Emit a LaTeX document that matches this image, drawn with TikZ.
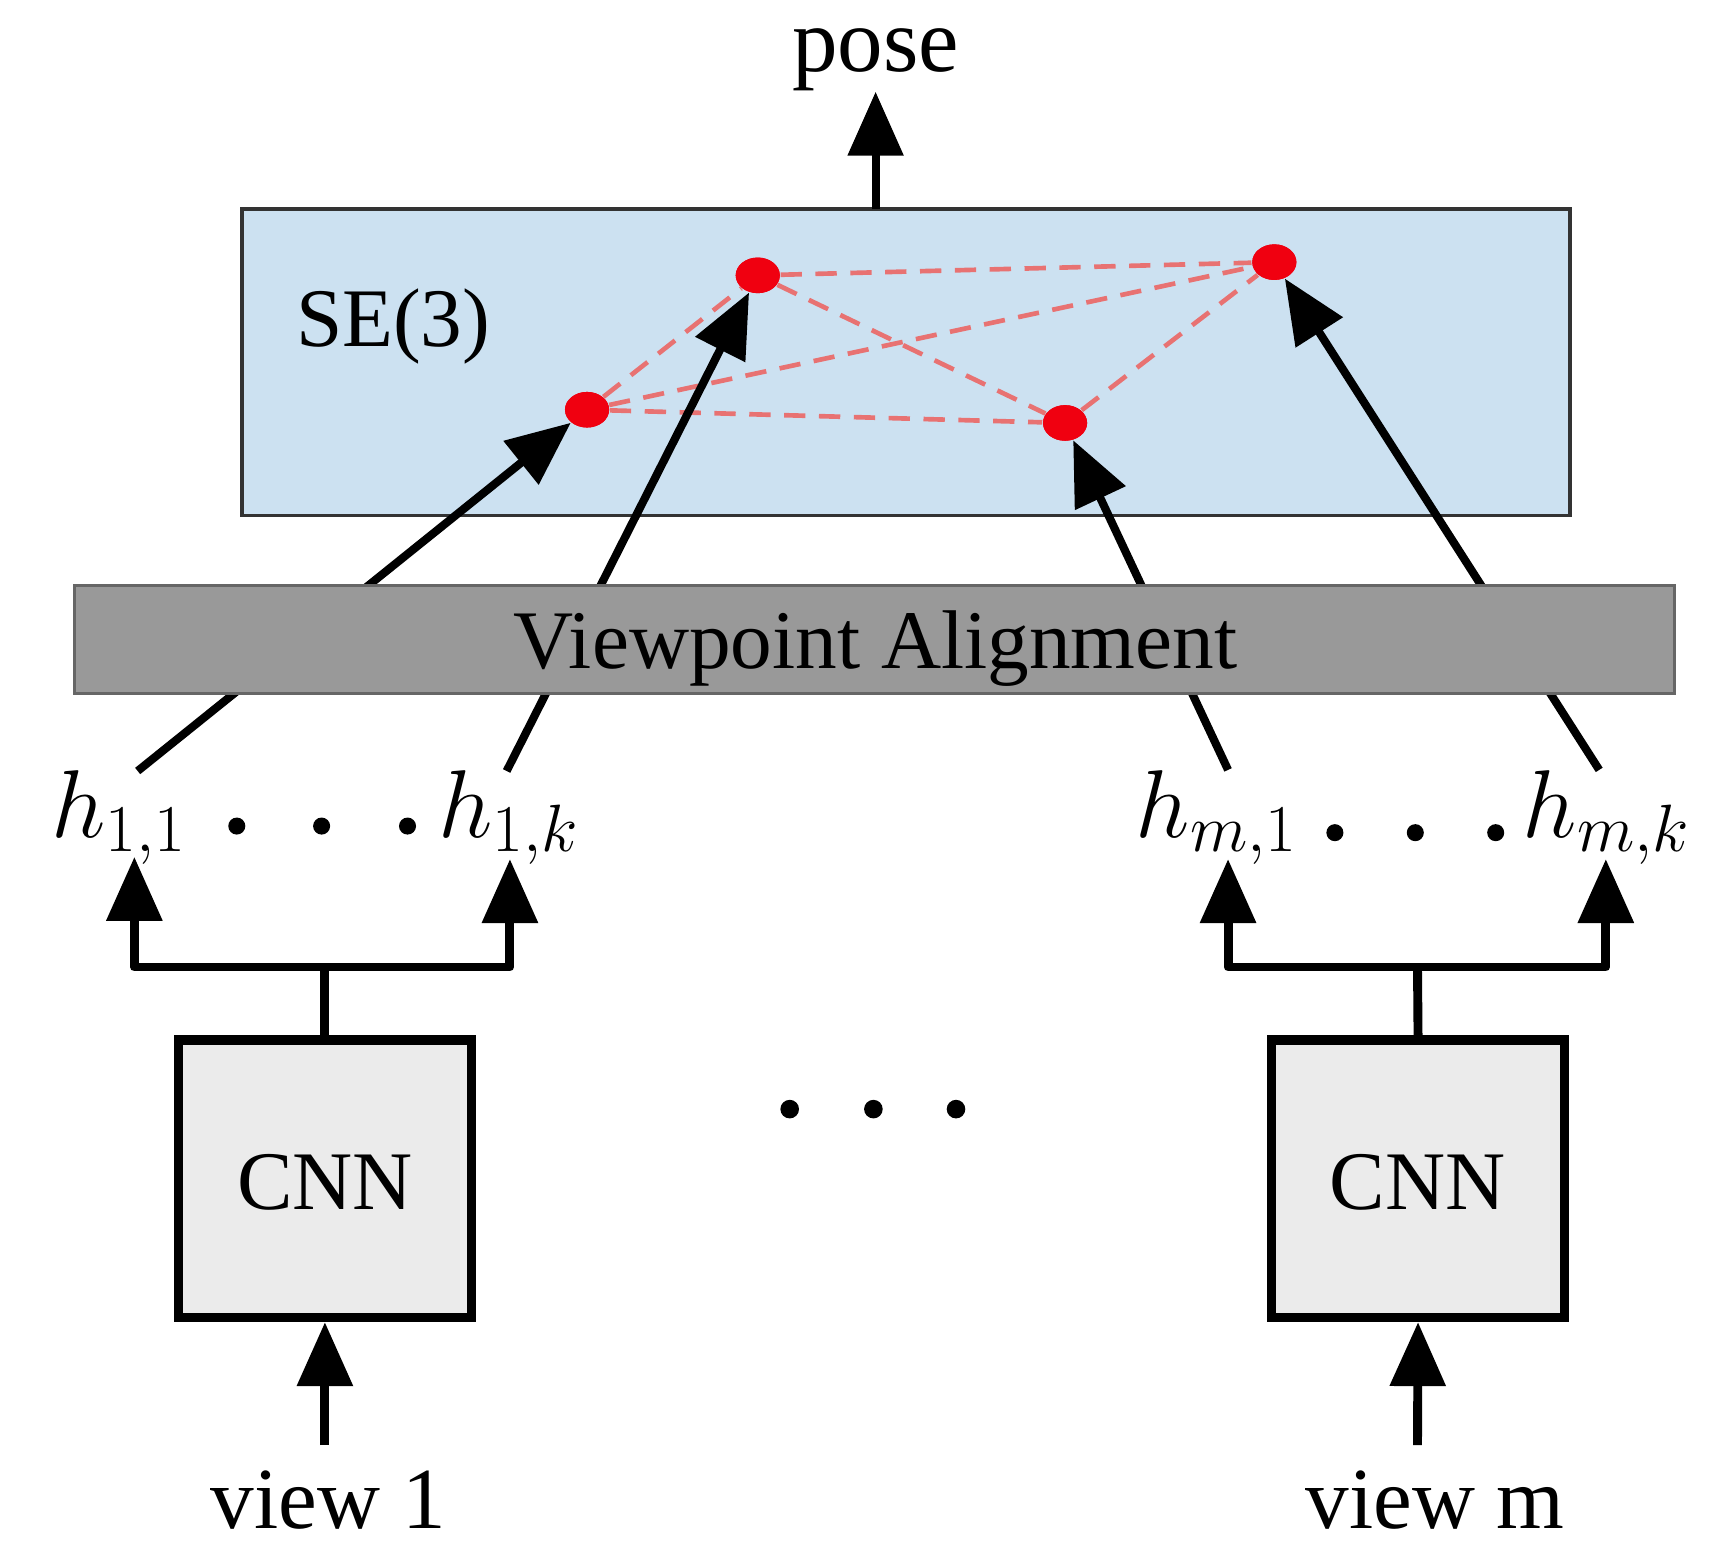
\documentclass[tikz,border=0pt]{standalone}
\usepackage[no-math]{fontspec}
\setmainfont{Liberation Serif}
\usetikzlibrary{arrows.meta,shapes.geometric}
\definecolor{seblue}{HTML}{CCE1F1}
\definecolor{vagray}{HTML}{999999}
\definecolor{cnngray}{HTML}{EBEBEB}
\definecolor{dotred}{HTML}{F00010}
\definecolor{dashred}{HTML}{E87272}
\begin{document}
\begin{tikzpicture}[x=0.01cm,y=-0.01cm,
  font=\fontsize{21.5}{26}\selectfont,
  bigarrow/.style={line width=2.1pt,-{Triangle[length=16.5pt,width=14pt]}},
  forkline/.style={line width=2.3pt,line join=round},
  reddot/.style={ellipse,fill=dotred,minimum width=11.4pt,minimum height=9.2pt,inner sep=0pt},
  reddash/.style={dashred,line width=1.2pt,dash pattern=on 5.5pt off 3.5pt},
  smalldot/.style={circle,fill=black,minimum size=4.4pt,inner sep=0pt},
  lbl/.style={inner sep=0pt,anchor=base},
  hlbl/.style={inner sep=0pt,anchor=base,font=\fontsize{24.5}{28}\selectfont}]
\useasboundingbox (0,0) rectangle (1568,1405);

% SE(3) box
\node[draw=black!80,line width=1pt,fill=seblue,minimum width=1205*0.2845pt,minimum height=278*0.2845pt,inner sep=0pt] (se) at (822.5,329) {};
\node[lbl] (setxt) at (357,315) {SE(3)};

% red dots
\node[reddot] (d1) at (533,372) {};
\node[reddot] (d2) at (688,250) {};
\node[reddot] (d3) at (967,384) {};
\node[reddot] (d4) at (1157,238) {};
\draw[reddash] (d1) -- (d2);
\draw[reddash] (d1) -- (d3);
\draw[reddash] (d1) -- (d4);
\draw[reddash] (d2) -- (d3);
\draw[reddash] (d2) -- (d4);
\draw[reddash] (d3) -- (d4);
\node[reddot] at (d1) {};
\node[reddot] at (d2) {};
\node[reddot] at (d3) {};
\node[reddot] at (d4) {};

% pose
\node[lbl,font=\fontsize{23.5}{28}\selectfont] (pose) at (795,65) {pose};
\coordinate (setop) at (795,190);
\draw[bigarrow] (setop) -- (pose.south);

% h labels
\node[hlbl] (h11) at (108,760) {$h_{1,1}$};
\node[hlbl] (h1k) at (462,760) {$h_{1,k}$};
\node[hlbl] (hm1) at (1105,760) {$h_{m,1}$};
\node[hlbl] (hmk) at (1459,760) {$h_{m,k}$};
\node[smalldot] (l1) at (215,750) {};
\node[smalldot] (l2) at (292,750) {};
\node[smalldot] (l3) at (370,750) {};
\node[smalldot] (r1) at (1212,756) {};
\node[smalldot] (r2) at (1285,756) {};
\node[smalldot] (r3) at (1358,756) {};

% arrows from h to dots
\coordinate (s11) at (125,700);
\coordinate (s1k) at (460,700);
\coordinate (sm1) at (1115,699);
\coordinate (smk) at (1452,699);
\draw[bigarrow] (s11) -- (d1);
\draw[bigarrow] (s1k) -- (d2);
\draw[bigarrow] (sm1) -- (d3);
\draw[bigarrow] (smk) -- (d4);

% Viewpoint alignment box (over the arrows)
\node[draw=black!60,line width=0.8pt,fill=vagray,minimum width=1452*0.2845pt,minimum height=98*0.2845pt,inner sep=0pt] (va) at (794,581) {};
\node[lbl] (vatxt) at (795,607) {Viewpoint Alignment};

% CNN boxes
\node[draw=black,line width=2.5pt,fill=cnngray,minimum width=266*0.2845pt,minimum height=252*0.2845pt,inner sep=0pt] (cnn1) at (295,1070) {};
\node[draw=black,line width=2.5pt,fill=cnngray,minimum width=266*0.2845pt,minimum height=252*0.2845pt,inner sep=0pt] (cnn2) at (1287.5,1070) {};
\node[lbl] (cnn1txt) at (295,1098) {CNN};
\node[lbl] (cnn2txt) at (1287,1098) {CNN};

% forks
\coordinate (f1) at (295,878);
\coordinate (t11) at (122,778);
\coordinate (t1k) at (463,780);
\draw[forkline] (cnn1.north) -- (f1);
\draw[forkline,bigarrow,line width=2.3pt] (f1) -| (t11);
\draw[forkline,bigarrow,line width=2.3pt] (f1) -| (t1k);

\coordinate (f2) at (1287,878);
\coordinate (tm1) at (1115,780);
\coordinate (tmk) at (1458,780);
\draw[forkline] (cnn2.north) -- (f2);
\draw[forkline,bigarrow,line width=2.3pt] (f2) -| (tm1);
\draw[forkline,bigarrow,line width=2.3pt] (f2) -| (tmk);

% middle dots
\node[smalldot,minimum size=4.8pt] (m1) at (717,1007) {};
\node[smalldot,minimum size=4.8pt] (m2) at (793,1007) {};
\node[smalldot,minimum size=4.8pt] (m3) at (868,1007) {};

% views
\node[lbl,font=\fontsize{22.5}{27}\selectfont] (v1) at (298,1388) {view 1};
\node[lbl,font=\fontsize{22.5}{27}\selectfont] (vm) at (1303,1388) {view m};
\coordinate (in1) at (295,1312);
\coordinate (in2) at (1287,1312);
\draw[bigarrow,line width=2.3pt] (in1) -- (cnn1.south);
\draw[bigarrow,line width=2.3pt] (in2) -- (cnn2.south);
\end{tikzpicture}
\end{document}
